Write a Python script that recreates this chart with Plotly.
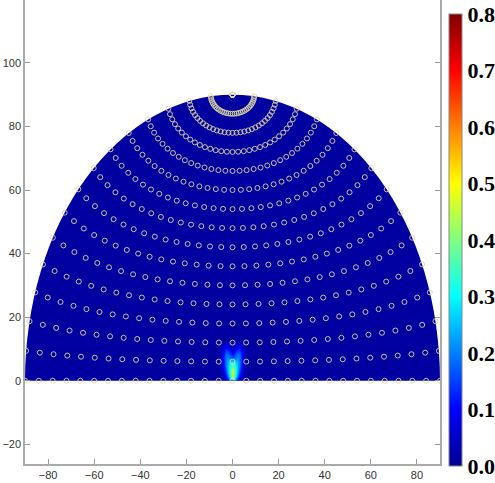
import numpy as np
import plotly.graph_objects as go

# ---- sampling grid: azimuth / elevation in degrees ----
azimuths = [-90, -84, -78, -72, -66, -60, -54, -48, -42, -36, -30, -24, -18, -12, -6, 0,
            6, 12, 18, 24, 30, 36, 42, 48, 54, 60, 66, 72, 78, 84, 90]
elevations = [0, 6, 12, 18, 24, 30, 36, 42, 48, 54, 60, 66, 72, 78, 84, 90]

# ---- field values (hot spot near the origin), background level ----
background = 0.015
spot_x = [-6, -5, -4, -3, -2, -1, 0, 1, 2, 3, 4, 5, 6]
spot_y = [0.5, 1.5, 2.5, 3.5, 4.5, 5.5, 6.5, 7.5, 8.5, 9.5, 10.5, 11.5, 12.5, 13.5]
b = background
spot_z = [
    [b, b, 0.03, 0.06, 0.12, 0.25, 0.38, 0.25, 0.12, 0.06, 0.03, b, b],
    [b, 0.02, 0.05, 0.10, 0.18, 0.34, 0.46, 0.34, 0.18, 0.10, 0.05, 0.02, b],
    [b, 0.03, 0.07, 0.13, 0.22, 0.36, 0.48, 0.36, 0.22, 0.13, 0.07, 0.03, b],
    [b, 0.04, 0.09, 0.16, 0.24, 0.36, 0.45, 0.36, 0.24, 0.16, 0.09, 0.04, b],
    [b, 0.04, 0.10, 0.18, 0.25, 0.34, 0.40, 0.34, 0.25, 0.18, 0.10, 0.04, b],
    [b, 0.05, 0.11, 0.19, 0.24, 0.30, 0.34, 0.30, 0.24, 0.19, 0.11, 0.05, b],
    [b, 0.05, 0.12, 0.19, 0.23, 0.24, 0.24, 0.24, 0.23, 0.19, 0.12, 0.05, b],
    [b, 0.05, 0.12, 0.19, 0.21, 0.18, 0.15, 0.18, 0.21, 0.19, 0.12, 0.05, b],
    [b, 0.05, 0.11, 0.17, 0.18, 0.13, 0.09, 0.13, 0.18, 0.17, 0.11, 0.05, b],
    [b, 0.04, 0.09, 0.14, 0.14, 0.09, 0.05, 0.09, 0.14, 0.14, 0.09, 0.04, b],
    [b, 0.03, 0.07, 0.10, 0.09, 0.06, 0.03, 0.06, 0.09, 0.10, 0.07, 0.03, b],
    [b, 0.02, 0.04, 0.06, 0.05, 0.04, 0.03, 0.04, 0.05, 0.06, 0.04, 0.02, b],
    [b, b, 0.02, 0.03, 0.03, 0.02, 0.02, 0.02, 0.03, 0.03, 0.02, b, b],
    [b, b, b, b, b, b, b, b, b, b, b, b, b],
]

x_ticks = [-80, -60, -40, -20, 0, 20, 40, 60, 80]
y_ticks = [-20, 0, 20, 40, 60, 80, 100]
cbar_ticks = [0.0, 0.1, 0.2, 0.3, 0.4, 0.5, 0.6, 0.7, 0.8]

jet = [[0.0, 'rgb(0,0,143)'], [0.125, 'rgb(0,0,255)'], [0.375, 'rgb(0,255,255)'],
       [0.625, 'rgb(255,255,0)'], [0.875, 'rgb(255,0,0)'], [1.0, 'rgb(128,0,0)']]
zmin, zmax = 0.0, 0.8


def jet_color(v):
    t = (v - zmin) / (zmax - zmin)
    for (t0, c0), (t1, c1) in zip(jet[:-1], jet[1:]):
        if t0 <= t <= t1:
            a = np.array([int(s) for s in c0[4:-1].split(',')])
            bb = np.array([int(s) for s in c1[4:-1].split(',')])
            f = (t - t0) / (t1 - t0)
            c = a + (bb - a) * f
            return 'rgb(%d,%d,%d)' % tuple(c.round())
    return jet[0][1]


# azimuthal-equidistant projection of the grid about the horizon direction
AZ, EL = np.meshgrid(np.radians(azimuths), np.radians(elevations))
theta = np.degrees(np.arccos(np.clip(np.cos(EL) * np.cos(AZ), -1, 1)))
phi = np.arctan2(np.sin(EL), np.cos(EL) * np.sin(AZ))
px = (theta * np.cos(phi)).ravel()
py = (theta * np.sin(phi)).ravel()

W, H = 495, 483
ML, MR, MT, MB = 25, 55, 0, 19
plot_h = H - MT - MB

fig = go.Figure()

fig.add_trace(go.Heatmap(
    x=spot_x, y=spot_y, z=spot_z, zmin=zmin, zmax=zmax, colorscale=jet,
    zsmooth='best', hoverinfo='skip',
    colorbar=dict(
        x=1.022, xanchor='left', thickness=13, xpad=0, ypad=0,
        lenmode='pixels', len=452, y=1 - 240.0 / plot_h, yanchor='middle',
        tickvals=cbar_ticks, ticktext=['%.1f' % v for v in cbar_ticks],
        ticks='', outlinecolor='#888', outlinewidth=1,
        tickfont=dict(family='Liberation Serif', size=22, color='black', weight='bold'),
    ),
))

fig.add_trace(go.Scatter(
    x=px, y=py, mode='markers', hoverinfo='skip',
    marker=dict(symbol='circle-open', size=5, color='rgb(222,214,160)', line=dict(width=0.9)),
    showlegend=False,
))

fig.update_layout(
    width=W, height=H,
    margin=dict(l=ML, r=MR, t=MT, b=MB, autoexpand=False),
    paper_bgcolor='white', plot_bgcolor='white',
    shapes=[
        dict(type='circle', xref='x', yref='y', x0=-90, x1=90, y0=-90, y1=90,
             fillcolor=jet_color(background), line=dict(width=0), layer='below'),
        dict(type='rect', xref='x', yref='y', x0=-100, x1=100, y0=-100, y1=0,
             fillcolor='white', line=dict(width=0), layer='below'),
    ],
    xaxis=dict(range=[-90, 90], tickvals=x_ticks, ticks='inside', ticklen=5,
               tickcolor='#999', showline=True, linecolor='#aaa', linewidth=1.5,
               showgrid=False, zeroline=False, mirror=False, automargin=False,
               tickfont=dict(family='Liberation Sans', size=11, color='#333')),
    yaxis=dict(range=[-26.2, 119.8], tickvals=y_ticks, ticks='inside', ticklen=5,
               tickcolor='#999', showline=True, linecolor='#aaa', linewidth=1.5,
               showgrid=False, zeroline=False, mirror='ticks', automargin=False,
               tickfont=dict(family='Liberation Sans', size=11, color='#333')),
)

fig.write_html('out.html', config={'displayModeBar': False},
               post_script="document.body.style.margin='0';document.body.style.padding='0';")
